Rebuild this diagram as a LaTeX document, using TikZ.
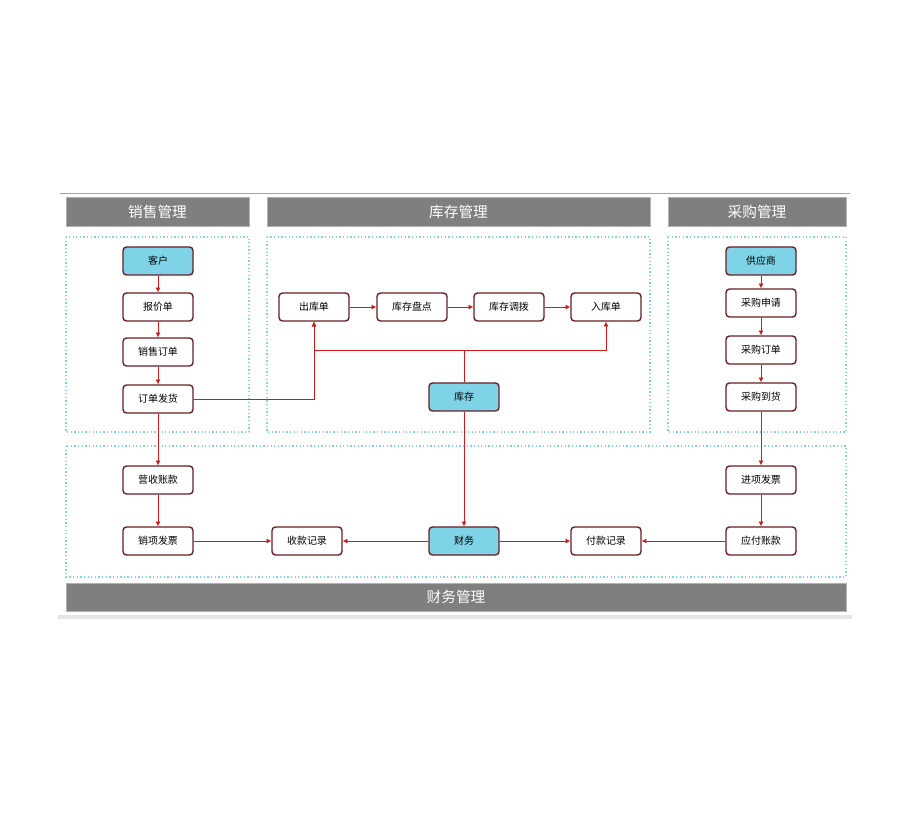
\documentclass[tikz,border=0pt]{standalone}
\usepackage{fontspec}
\setmainfont{Noto Sans CJK SC}
\usetikzlibrary{arrows.meta}
\definecolor{boxline}{HTML}{6B1E24}
\definecolor{fillblue}{HTML}{7FD3E6}
\definecolor{headgray}{HTML}{7F7F7F}
\definecolor{lnred}{HTML}{D01A1A}
\definecolor{dotblue}{HTML}{7FD3E6}
\definecolor{topline}{HTML}{5CC4C4}
\tikzset{
  item/.style={draw=boxline, line width=1.2pt, rounded corners=3pt, fill=white,
    minimum width=2.1cm, minimum height=0.84cm, font=\fontsize{8.5}{10}\selectfont},
  hub/.style={item, fill=fillblue},
  head/.style={fill=headgray, draw=gray!60, text=white, font=\fontsize{12.5}{14}\selectfont},
  area/.style={draw=dotblue, dotted, line width=1.1pt},
  flow/.style={draw=lnred, -{Latex[length=4pt,width=4pt]}},
  link/.style={draw=lnred}
}
\begin{document}
\begin{tikzpicture}[x=0.03cm, y=-0.03cm]
	\useasboundingbox (0,0) rectangle (910,820);
	% Frame
	\draw[topline, line width=0.8pt] (60,193) -- (850,193);
	\fill[gray!20] (58,615) rectangle (852,619);
	\draw[area] (66,237) rectangle (249,432);
	\draw[area] (267,237) rectangle (650,432);
	\draw[area] (668,237) rectangle (846,432);
	\draw[area] (66,446) rectangle (846,577);
	\node[head, minimum width=5.49cm, minimum height=0.87cm] (hsale) at (157.5,211.5) {销售管理};
	\node[head, minimum width=11.49cm, minimum height=0.87cm] (hstock) at (458.5,211.5) {库存管理};
	\node[head, minimum width=5.34cm, minimum height=0.87cm] (hbuy) at (757,211.5) {采购管理};
	\node[head, minimum width=23.4cm, minimum height=0.84cm] (hfin) at (456,597) {财务管理};

	% Nodes
	\node[hub] (kehu) at (158,261) {客户};
	\node[item] (baojia) at (158,307) {报价单};
	\node[item] (xsdd) at (158,352) {销售订单};
	\node[item] (ddfh) at (158,399) {订单发货};
	\node[hub] (gys) at (761,261) {供应商};
	\node[item] (cgsq) at (761,303) {采购申请};
	\node[item] (cgdd) at (761,350) {采购订单};
	\node[item] (cgdh) at (761,397) {采购到货};
	\node[item] (ckd) at (314,307) {出库单};
	\node[item] (kcpd) at (412,307) {库存盘点};
	\node[item] (kcdb) at (509,307) {库存调拨};
	\node[item] (rkd) at (606,307) {入库单};
	\node[hub] (kucun) at (464,397) {库存};
	\node[item] (yszk) at (158,480) {营收账款};
	\node[item] (xxfp) at (158,541) {销项发票};
	\node[item] (skjl) at (307,541) {收款记录};
	\node[hub] (caiwu) at (464,541) {财务};
	\node[item] (fkjl) at (606,541) {付款记录};
	\node[item] (jxfp) at (761,480) {进项发票};
	\node[item] (yfzk) at (761,541) {应付账款};
	\coordinate (mid) at (464,350);

	% Edges
	\draw[flow] (kehu) -- (baojia);
	\draw[flow] (baojia) -- (xsdd);
	\draw[flow] (xsdd) -- (ddfh);
	\draw[flow] (gys) -- (cgsq);
	\draw[flow] (cgsq) -- (cgdd);
	\draw[flow] (cgdd) -- (cgdh);
	\draw[flow] (ckd) -- (kcpd);
	\draw[flow] (kcpd) -- (kcdb);
	\draw[flow] (kcdb) -- (rkd);
	\draw[flow] (ddfh) -| (ckd);
	\draw[link] (kucun) -- (mid);
	\draw[flow] (mid) -| (ckd);
	\draw[flow] (mid) -| (rkd);
	\draw[flow] (kucun) -- (caiwu);
	\draw[flow] (ddfh) -- (yszk);
	\draw[flow] (yszk) -- (xxfp);
	\draw[flow] (xxfp) -- (skjl);
	\draw[flow] (caiwu) -- (skjl);
	\draw[flow] (caiwu) -- (fkjl);
	\draw[flow] (yfzk) -- (fkjl);
	\draw[flow] (cgdh) -- (jxfp);
	\draw[flow] (jxfp) -- (yfzk);
\end{tikzpicture}
\end{document}
